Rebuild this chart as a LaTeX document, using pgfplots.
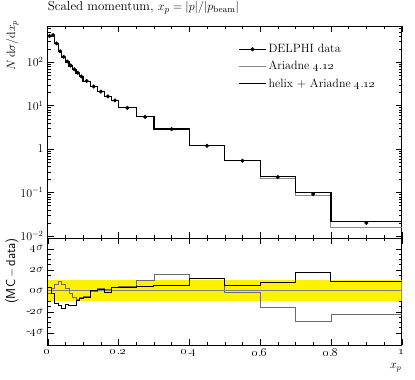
\documentclass[border=0pt,12pt]{standalone}
\usepackage{pgfplots}
\pgfplotsset{compat=1.18}
\definecolor{mcgray}{rgb}{0.55,0.55,0.55}
\definecolor{rgray}{rgb}{0.42,0.42,0.42}
\newcommand\os[1]{\oldstylenums{#1}}

% bin left edges, last row closes the last bin
\pgfplotstableread{
x     helix   ariadne
0.00  402     398
0.01  417     422
0.02  264     273
0.03  173     181
0.04  128.5   134.6
0.05  101.3   104.4
0.06  81.6    83.5
0.07  67.1    68.2
0.08  56.0    56.1
0.09  46.3    46.4
0.10  36.6    36.6
0.12  27.6    27.5
0.14  21.0    21.1
0.16  16.2    16.3
0.18  13.3    13.3
0.20  8.95    8.97
0.25  5.54    5.61
0.30  2.91    2.97
0.40  1.22    1.22
0.50  0.548   0.537
0.60  0.237   0.216
0.70  0.100   0.084
0.80  0.0219  0.0157
1.00  0.0219  0.0157
}\mchist

\pgfplotstableread{
x      y
0.005  400
0.015  420
0.025  270
0.035  178
0.045  133
0.055  104
0.065  84
0.075  69
0.085  57
0.095  47
0.11   37
0.13   27.6
0.15   21
0.17   16.3
0.19   13.2
0.225  8.9
0.275  5.5
0.35   2.88
0.45   1.19
0.55   0.54
0.65   0.227
0.75   0.092
0.90   0.020
}\delphi

\pgfplotstableread{
x     helix  ariadne
0.00  0.3    -0.3
0.01  -0.3   0.2
0.02  -1.2   0.6
0.03  -1.4   0.9
0.04  -1.7   0.6
0.05  -1.3   0.2
0.06  -1.4   -0.3
0.07  -1.4   -0.6
0.08  -0.9   -0.8
0.09  -0.7   -0.6
0.10  -0.6   -0.5
0.12  0.0    -0.1
0.14  0.1    0.2
0.16  -0.2   0.1
0.18  0.3    0.3
0.20  0.3    0.4
0.25  0.4    1.0
0.30  0.5    1.6
0.40  1.2    1.2
0.50  0.5    -0.2
0.60  0.75   -1.6
0.70  1.75   -2.9
0.80  0.9    -2.3
1.00  0.9    -2.3
}\ratio

\pgfplotsset{
  rivet/.style={
    width=354pt, scale only axis,
    xmin=0, xmax=1,
    xtick={0,0.2,0.4,0.6,0.8,1}, minor x tick num=3,
    major tick length=6pt, minor tick length=3pt,
    tick style={black, line width=0.4pt},
    axis line style={line width=0.5pt},
  },
}

\begin{document}
\begin{tikzpicture}
\begin{axis}[rivet,
    at={(0,107pt)}, anchor=south west, height=212pt,
    ymode=log, ymin=0.009, ymax=680,
    ytick={0.01,0.1,1,10,100},
    minor ytick={0.02,0.03,0.04,0.05,0.06,0.07,0.08,0.09,
                 0.2,0.3,0.4,0.5,0.6,0.7,0.8,0.9,
                 2,3,4,5,6,7,8,9,
                 20,30,40,50,60,70,80,90,
                 200,300,400,500,600},
    yticklabels={$10^{-2}$,$10^{-1}$,$1$,$10^{1}$,$10^{2}$},
    xticklabels={},
    title={\fontsize{13}{15}\selectfont Scaled momentum, $x_p = |p|/|p_{\mathrm{beam}}|$},
    title style={at={(axis description cs:0,1.045)}, anchor=base west, inner sep=0pt},
    ylabel={$N\,\mathrm{d}\sigma/\mathrm{d}x_p$},
    every axis y label/.style={at={(axis description cs:-0.082,1.028)}, rotate=90, anchor=south east, inner sep=0pt},
    legend cell align=left,
    legend style={draw=none, fill=none, at={(axis description cs:0.53,0.934)}, anchor=north west, row sep=3pt},
]
\addlegendimage{legend image code/.code={\draw[black,line width=0.8pt] (0pt,0pt) -- (27pt,0pt); \fill[black] (13.5pt,0pt) circle (1.8pt);}}
\addlegendentry{DELPHI data}
\addlegendimage{legend image code/.code={\draw[mcgray,line width=1pt] (0pt,0pt) -- (27pt,0pt);}}
\addlegendentry{Ariadne \os{4}.\os{12}}
\addlegendimage{legend image code/.code={\draw[black,line width=1pt] (0pt,0pt) -- (27pt,0pt);}}
\addlegendentry{helix + Ariadne \os{4}.\os{12}}

\addplot[forget plot, const plot, mcgray, line width=1pt] table[x=x, y=ariadne] {\mchist};
\addplot[forget plot, const plot, black, line width=1.2pt] table[x=x, y=helix] {\mchist};
\addplot[forget plot, only marks, mark=*, mark size=1.8pt, black] table[x=x, y=y] {\delphi};
\end{axis}

\begin{axis}[rivet, name=ratio,
    at={(0,0)}, anchor=south west, height=107pt,
    ymin=-5.17, ymax=5.02,
    ytick={-4,-2,0,2,4}, minor y tick num=3,
    yticklabels={-\os{4}$\sigma$,-\os{2}$\sigma$,\os{0}$\sigma$,\os{2}$\sigma$,\os{4}$\sigma$},
    xticklabels={\os{0},\os{0}.\os{2},\os{0}.\os{4},\os{0}.\os{6},\os{0}.\os{8},\os{1}},
    xlabel={$x_p$},
    every axis x label/.style={at={(axis description cs:1,-0.17)}, anchor=north east, inner sep=0pt},
]
\addplot[fill=yellow, draw=none] coordinates {(0,-1) (1,-1) (1,1) (0,1)} -- cycle;
\addplot[gray, line width=0.5pt] coordinates {(0,0) (1,0)};
\addplot[const plot, rgray, line width=0.8pt] table[x=x, y=ariadne] {\ratio};
\addplot[const plot, black, line width=1pt] table[x=x, y=helix] {\ratio};
\end{axis}
\node[rotate=90, anchor=south east, inner sep=0pt] at ([xshift=-29pt]ratio.north west) {\fontsize{13}{15}\selectfont\sffamily (MC$\,-\,$data)};

\pgfresetboundingbox
\path (-47.7pt,-35pt) rectangle (367.3pt,345pt);
\end{tikzpicture}
\end{document}
